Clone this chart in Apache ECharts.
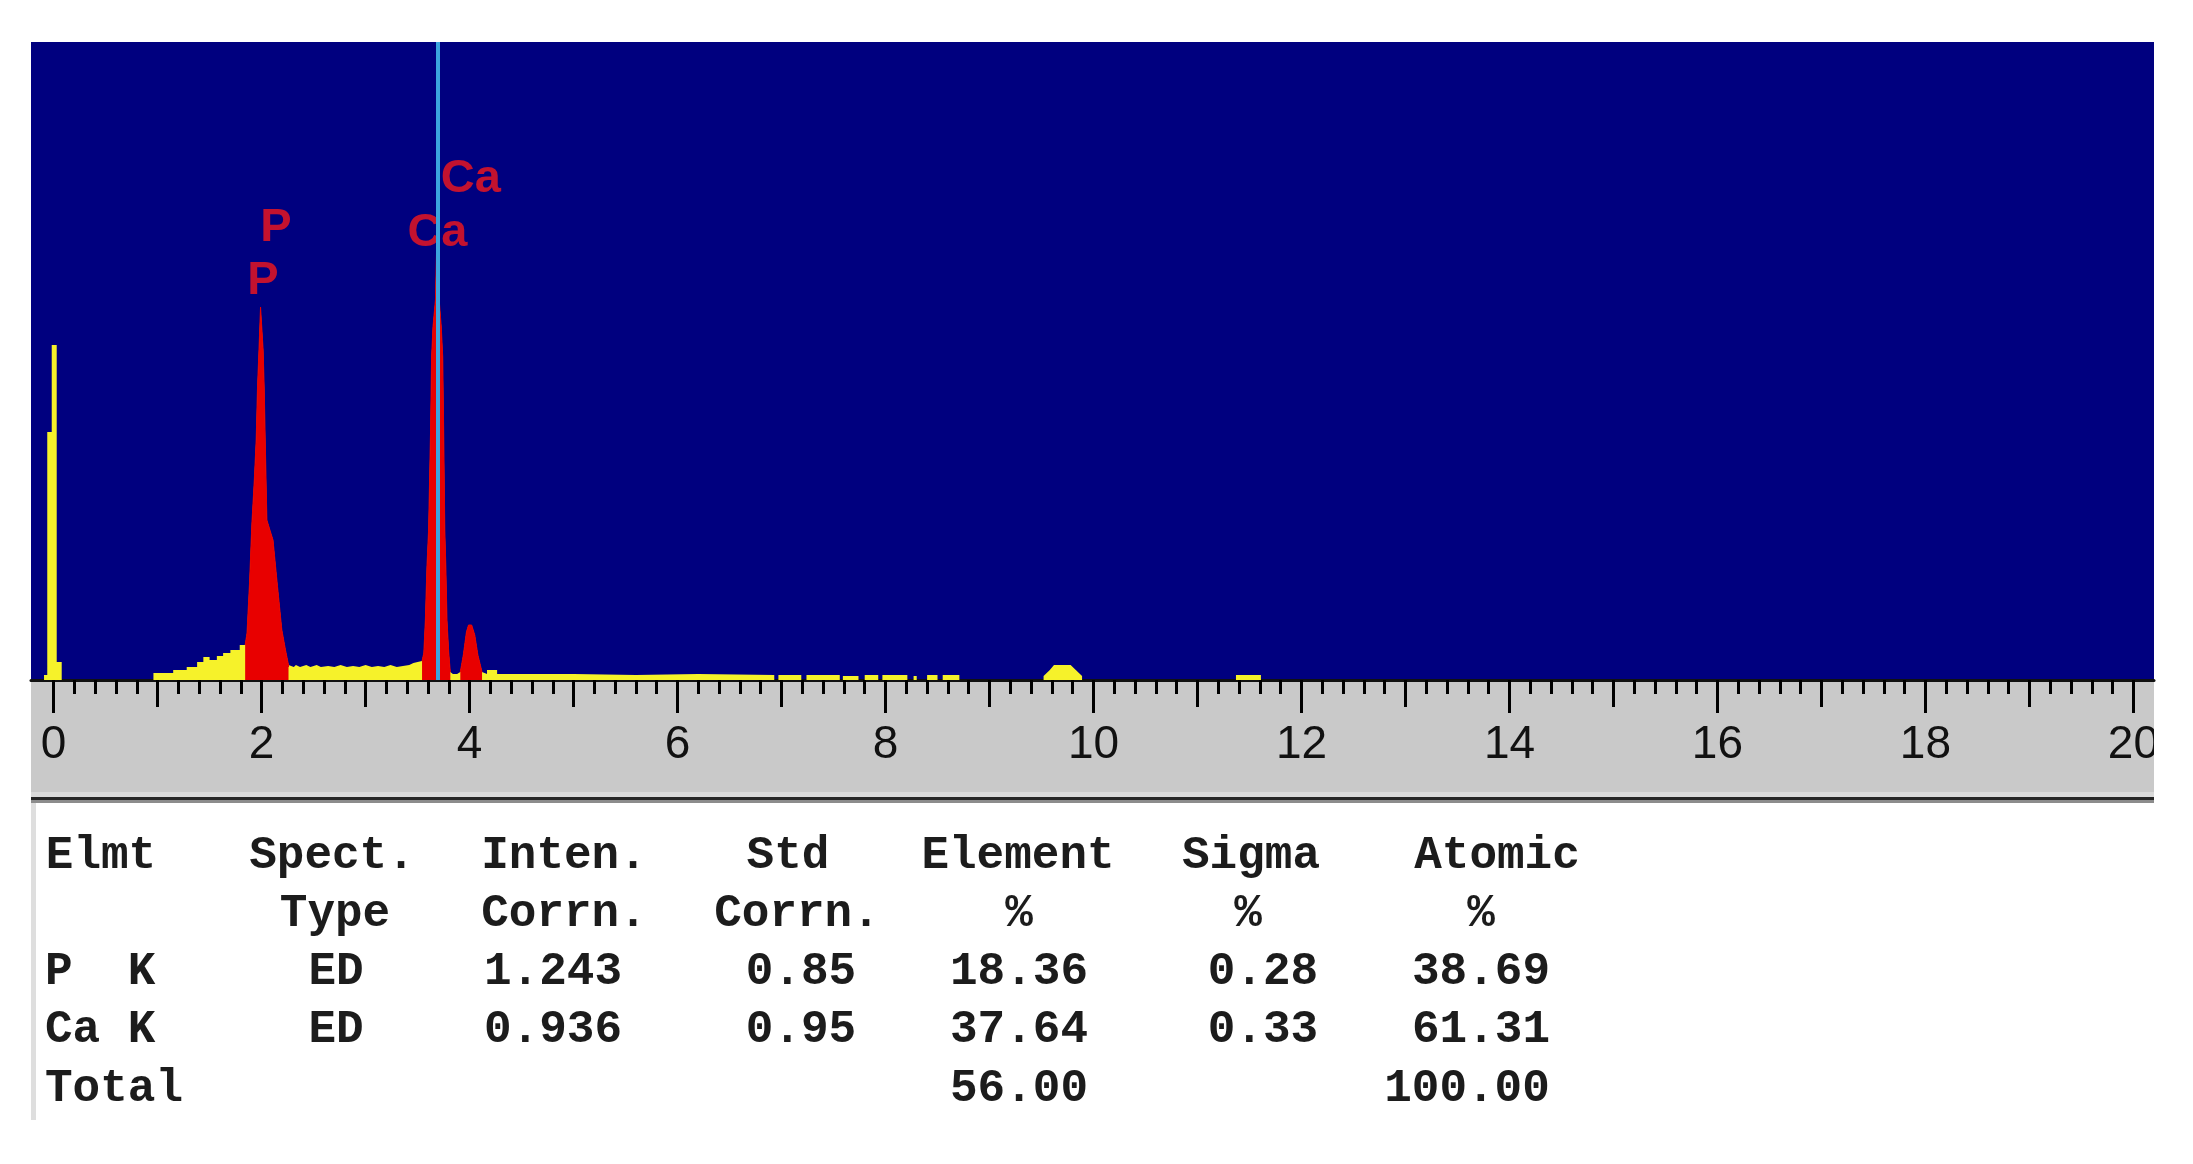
<!DOCTYPE html>
<html>
<head>
<meta charset="utf-8">
<title>EDS spectrum P / Ca</title>
<script src="https://cdn.jsdelivr.net/npm/echarts@6.0.0/dist/echarts.min.js"></script>
<style>
  html, body { margin: 0; padding: 0; background: #fff; }
  #chart { width: 2193px; height: 1164px; }
</style>
</head>
<body>
<div id="chart"></div>
<script>
// spectrum outline, [energy keV, counts]
var spectrum = [
  [-0.092, 0], [-0.092, 5], [-0.061, 5], [-0.061, 248], [-0.018, 248], [-0.018, 335], [0.030, 335], [0.030, 18], [0.078, 18], [0.078, 0],
  [0.96, 0], [0.96, 7], [1.15, 7], [1.15, 10], [1.28, 10], [1.28, 13], [1.38, 13], [1.38, 18], [1.44, 18], [1.44, 23],
  [1.50, 23], [1.50, 20], [1.57, 20], [1.57, 24], [1.63, 24], [1.63, 27], [1.70, 27], [1.70, 30], [1.79, 30], [1.79, 35],
  [1.842, 35], [1.86, 47], [1.884, 97], [1.907, 157], [1.93, 200], [1.948, 240], [1.961, 293], [1.975, 330], [1.99, 373], [2.005, 373],
  [2.015, 330], [2.025, 293], [2.035, 240], [2.051, 160], [2.08, 150], [2.11, 140], [2.147, 100], [2.195, 50], [2.23, 30], [2.259, 15],
  [2.259, 13], [2.31, 13], [2.33, 15], [2.37, 13], [2.43, 15], [2.47, 13], [2.53, 15], [2.57, 13], [2.64, 14], [2.70, 13],
  [2.76, 15], [2.82, 13], [2.88, 14], [2.94, 13], [3.00, 15], [3.06, 13], [3.12, 14], [3.18, 13], [3.24, 15], [3.30, 13],
  [3.36, 14], [3.42, 15], [3.46, 17], [3.50, 18], [3.543, 19],
  [3.56, 27], [3.575, 60], [3.59, 113], [3.606, 150], [3.625, 250], [3.635, 323], [3.648, 353], [3.672, 380], [3.682, 427], [3.698, 427],
  [3.708, 380], [3.728, 353], [3.742, 323], [3.751, 250], [3.762, 150], [3.772, 113], [3.783, 60], [3.80, 27], [3.815, 8],
  [3.84, 6], [3.88, 6],
  [3.911, 8], [3.94, 25], [3.97, 48], [3.99, 55], [4.02, 55], [4.05, 45], [4.08, 25], [4.12, 8],
  [4.168, 6], [4.168, 10], [4.265, 10], [4.265, 6], [5.0, 6], [5.6, 5], [6.2, 6], [6.93, 5], [6.93, 0],
  [6.97, 0], [6.97, 5], [7.19, 5], [7.19, 0], [7.24, 0], [7.24, 5], [7.56, 5], [7.56, 0], [7.59, 0], [7.59, 4],
  [7.74, 4], [7.74, 0], [7.80, 0], [7.80, 5], [7.93, 5], [7.93, 0], [7.97, 0], [7.97, 5], [8.21, 5], [8.21, 0],
  [8.27, 0], [8.27, 4], [8.30, 4], [8.30, 0], [8.40, 0], [8.40, 5], [8.50, 5], [8.50, 0], [8.55, 0], [8.55, 5],
  [8.71, 5], [8.71, 0],
  [9.52, 0], [9.52, 4], [9.58, 10], [9.62, 15], [9.78, 15], [9.83, 10], [9.89, 4], [9.89, 0],
  [11.37, 0], [11.37, 5], [11.61, 5], [11.61, 0], [20, 0]
];

// regions of interest shown in red (keV)
var rois = [[1.842, 2.259], [3.543, 3.815], [3.911, 4.12]];

// cursor (Ca K alpha)
var cursorEnergy = 3.691;

// element line labels
var lineNames = ['P', 'P', 'Ca', 'Ca'];
var lineEnergies = [2.013, 2.139, 3.691, 4.012];
var lineLabelY = [399, 452, 447, 501];

// energy scale ticks (keV)
var energyMin = 0, energyMax = 20, labelStep = 2, midStep = 1, minorPerLabel = 10;

// quantification table
var tableHead1 = ['Elmt', 'Spect.', 'Inten.', 'Std', 'Element', 'Sigma', 'Atomic'];
var tableHead2 = ['', 'Type', 'Corrn.', 'Corrn.', '%', '%', '%'];
var elmtNames = ['P  K', 'Ca K'];
var spectType = ['ED', 'ED'];
var intenCorrn = ['1.243', '0.936'];
var stdCorrn = ['0.85', '0.95'];
var elementPct = [18.36, 37.64];
var sigmaPct = [0.28, 0.33];
var atomicPct = [38.69, 61.31];

var chart = echarts.init(document.getElementById('chart'), null, {renderer: 'canvas'});

var yellow = '#f6f22a';
var red = '#e80000';
var tableFont = 'bold 46px "Liberation Mono", "DejaVu Sans Mono", monospace';
var rowY = [856, 914, 972, 1030, 1089];
var head1X = [101, 332, 564, 788, 1018, 1251, 1497];
var head2X = [0, 335, 564, 797, 1019, 1248, 1481];
var valX = [0, 336, 553, 801, 1019, 1263, 1481];

// pixel layout of the spectrum window
var pxPerKeV = 103.99, zeroX = 53.6, winLeft = 31, winRight = 2154;

function txt(s, x, y, align) {
  return {
    type: 'text', x: x, y: y,
    style: {text: s, font: tableFont, fill: '#1c1c1c', textAlign: align || 'center', textVerticalAlign: 'middle'}
  };
}

var tableEls = [];
tableHead1.forEach(function (h, i) { tableEls.push(txt(h, head1X[i], rowY[0])); });
tableHead2.forEach(function (h, i) { if (h) tableEls.push(txt(h, head2X[i], rowY[1])); });
for (var r = 0; r < elmtNames.length; r++) {
  var y = rowY[2 + r];
  tableEls.push(txt(elmtNames[r], 45, y, 'left'));
  tableEls.push(txt(spectType[r], valX[1], y));
  tableEls.push(txt(intenCorrn[r], valX[2], y));
  tableEls.push(txt(stdCorrn[r], valX[3], y));
  tableEls.push(txt(elementPct[r].toFixed(2), valX[4], y));
  tableEls.push(txt(sigmaPct[r].toFixed(2), valX[5], y));
  tableEls.push(txt(atomicPct[r].toFixed(2), valX[6], y));
}
var totElement = elementPct.reduce(function (a, b) { return a + b; }, 0);
var totAtomic = atomicPct.reduce(function (a, b) { return a + b; }, 0);
tableEls.push(txt('Total', 45, rowY[4], 'left'));
tableEls.push(txt(totElement.toFixed(2), valX[4], rowY[4]));
tableEls.push(txt(totAtomic.toFixed(2), 1467, rowY[4]));

var redSeries = rois.map(function (roi) {
  return {
    type: 'line', xAxisIndex: 0, yAxisIndex: 0,
    data: spectrum.filter(function (p) { return p[0] >= roi[0] && p[0] <= roi[1]; }),
    symbol: 'none', silent: true, z: 3,
    lineStyle: {width: 1, color: red},
    itemStyle: {color: red},
    areaStyle: {color: red, opacity: 1}
  };
});

var option = {
  backgroundColor: '#ffffff',
  animation: false,
  grid: [
    {left: winLeft, right: 2193 - winRight, top: 42, bottom: 484, show: true, backgroundColor: '#00007f', borderWidth: 0},
    {left: zeroX, right: 2193 - (zeroX + pxPerKeV * energyMax), top: 42, bottom: 484},
    {left: winLeft, right: 2193 - winRight, top: 681, bottom: 372, show: true, backgroundColor: '#c9c9c9', borderWidth: 0}
  ],
  xAxis: [
    {gridIndex: 0, type: 'value',
      min: -(zeroX - winLeft) / pxPerKeV, max: (winRight - zeroX) / pxPerKeV,
      axisLine: {show: true, onZero: false, lineStyle: {color: '#111', width: 3}},
      axisTick: {show: false}, axisLabel: {show: false}, splitLine: {show: false}},
    {gridIndex: 1, type: 'value', position: 'bottom', min: energyMin, max: energyMax, interval: labelStep,
      axisLine: {show: false, onZero: false},
      axisTick: {show: true, length: 33, lineStyle: {color: '#000', width: 3}},
      minorTick: {show: true, splitNumber: minorPerLabel, length: 14, lineStyle: {color: '#000', width: 3}},
      axisLabel: {show: true, margin: 42, color: '#111', fontSize: 46, fontFamily: 'Liberation Sans'},
      splitLine: {show: false}, minorSplitLine: {show: false}},
    {gridIndex: 1, type: 'value', position: 'bottom', offset: 0, min: energyMin, max: energyMax, interval: midStep,
      axisLine: {show: false, onZero: false},
      axisTick: {show: true, length: 27, lineStyle: {color: '#000', width: 3}},
      axisLabel: {show: false}, splitLine: {show: false}},
    {gridIndex: 2, type: 'value', show: false}
  ],
  yAxis: [
    {gridIndex: 0, type: 'value', min: 0, max: 638, show: false},
    {gridIndex: 1, type: 'value', min: 0, max: 638, show: false},
    {gridIndex: 2, type: 'value', show: false}
  ],
  series: [
    {
      type: 'scatter', xAxisIndex: 0, yAxisIndex: 0, z: 1, silent: true,
      symbolSize: 1, itemStyle: {color: 'rgba(0,0,0,0)'},
      label: {show: true, position: 'inside', formatter: '{b}', color: '#f4161c', fontSize: 47, fontWeight: 'bold', fontFamily: 'Liberation Sans'},
      data: lineNames.map(function (n, i) { return {name: n, value: [lineEnergies[i], lineLabelY[i]]}; })
    },
    {
      type: 'line', xAxisIndex: 0, yAxisIndex: 0, z: 2, silent: true,
      data: spectrum, symbol: 'none',
      lineStyle: {width: 0, color: yellow},
      itemStyle: {color: yellow},
      areaStyle: {color: yellow, opacity: 1},
      markLine: {
        silent: true, symbol: ['none', 'none'], label: {show: false},
        lineStyle: {color: '#3ba4de', width: 4, type: 'solid'},
        data: [{xAxis: cursorEnergy}]
      }
    }
  ].concat(redSeries),
  graphic: {
    elements: [
      {type: 'rect', shape: {x: 31, y: 792, width: 2123, height: 5}, style: {fill: '#dadada'}},
      {type: 'rect', shape: {x: 31, y: 797, width: 2123, height: 3}, style: {fill: '#262626'}},
      {type: 'rect', shape: {x: 31, y: 800, width: 2123, height: 3}, style: {fill: '#8c8c8c'}},
      {type: 'rect', shape: {x: 31, y: 803, width: 5, height: 317}, style: {fill: '#dedede'}},
      {type: 'rect', z: 100, shape: {x: 2154, y: 682, width: 39, height: 120}, style: {fill: '#ffffff'}}
    ].concat(tableEls)
  }
};

chart.setOption(option);
</script>
</body>
</html>
